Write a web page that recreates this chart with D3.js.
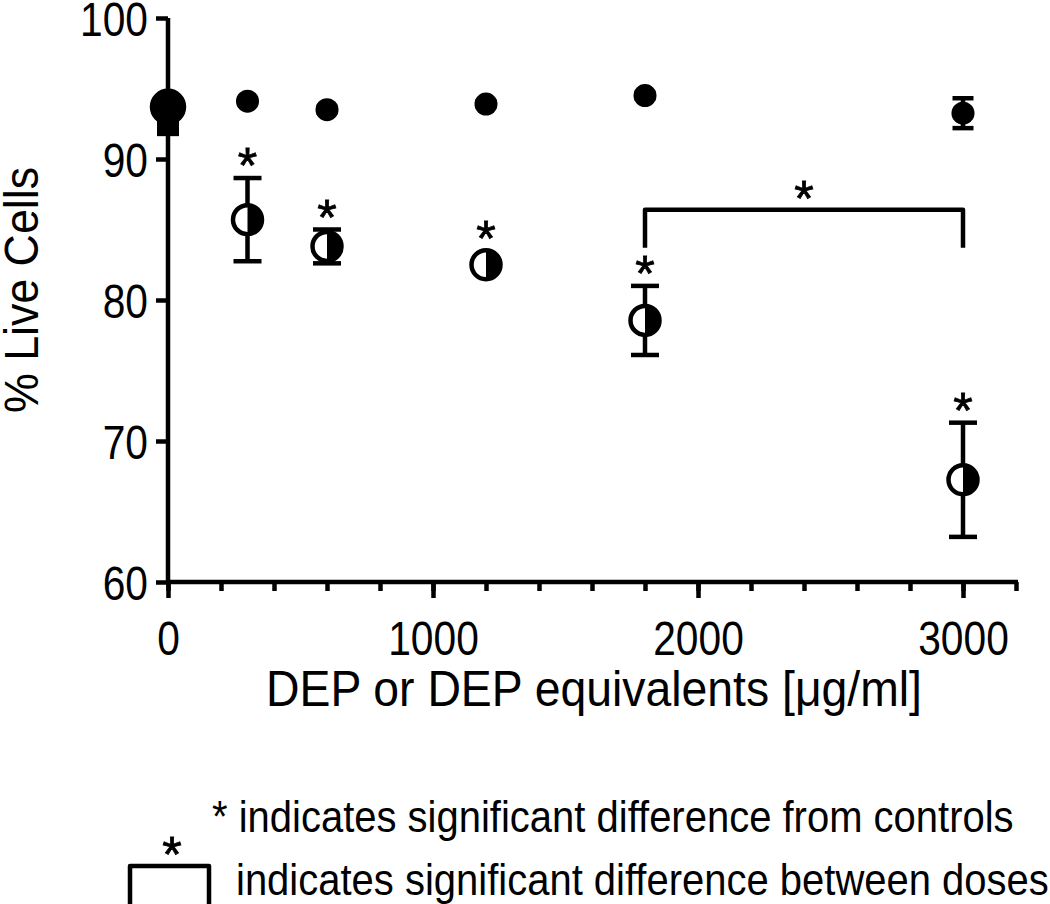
<!DOCTYPE html>
<html>
<head>
<meta charset="utf-8">
<script src="https://cdn.jsdelivr.net/npm/d3@7"></script>
<style>
  html, body { margin: 0; padding: 0; background: #fff; }
  svg { display: block; }
  text { font-family: "Liberation Sans", Arial, Helvetica, sans-serif; fill: #000; }
</style>
</head>
<body>
<svg id="chart" width="1050" height="904"></svg>
<script>
// ---- data ----
const doses = [0, 300, 600, 1200, 1800, 3000];
const depMeans = [93.8, 94.1, 93.5, 93.9, 94.5, 93.25];
const depErr = [0.3, 0.2, 0.2, 0.2, 0.2, 1.06];
const equivMeans = [93.7, 85.7, 83.8, 82.5, 78.55, 67.25];
const equivErr = [0.3, 2.95, 1.2, 0.3, 2.45, 4.05];
const equivSig = [false, true, true, true, true, true];
const controlDoses = [0];
const controlMeans = [92.4];
const bracketDoses = [1800, 3000];
const bracketLevels = [86.4, 83.7];   // top of bracket, bottom of its legs
const yTicks = [60, 70, 80, 90, 100];
const xMajorTicks = [0, 1000, 2000, 3000];
const xMinorTicks = d3.range(0, 3201, 200);
const xTitle = "DEP or DEP equivalents [\u03BCg/ml]";
const yTitle = "% Live Cells";
const legend1 = "* indicates significant difference from controls";
const legend2 = "indicates significant difference between doses";

// ---- scales ----
const x = d3.scaleLinear().domain([0, 3200]).range([168, 1016]);
const y = d3.scaleLinear().domain([60, 100]).range([582, 18]);

const svg = d3.select("#chart");
const SW = 4.5;

// place a text with a slightly tall (stretched) face like the reference
function stretched(parent, tx, ty, str, size, sx, sy, anchor, rot) {
  return parent.append("text")
    .attr("transform", `translate(${tx},${ty})${rot ? ` rotate(${rot})` : ""} scale(${sx},${sy})`)
    .attr("text-anchor", anchor || "start")
    .style("font-size", size + "px").text(str);
}
function restretch(sel, sx, sy) {
  sel.each(function () {
    const t = d3.select(this);
    const tx = +t.attr("x") || 0, ty = +t.attr("y") || 0;
    t.attr("x", 0).attr("y", 0).attr("transform", `translate(${tx},${ty}) scale(${sx},${sy})`);
  });
}
const AST = 50;
function asterisk(parent, cx, cy) {
  return parent.append("text").attr("x", cx).attr("y", cy + 0.57 * AST)
    .attr("text-anchor", "middle").style("font-size", AST + "px")
    .attr("stroke", "#000").attr("stroke-width", 0.8).text("*");
}

// ---- axes ----
const yAxis = d3.axisLeft(y).tickValues(yTicks).tickSize(12).tickPadding(8).tickFormat(d3.format("d"));
const gy = svg.append("g").attr("transform", `translate(${x(0)},0)`).call(yAxis);
gy.select(".domain").attr("d", `M0,${y(100)}V${y(60)}`).attr("stroke-width", SW).attr("stroke", "#000");
gy.selectAll(".tick line").attr("stroke-width", SW).attr("stroke", "#000");
gy.selectAll(".tick text").style("font-size", "42px").attr("dy", "0.36em");
restretch(gy.selectAll(".tick text"), 0.97, 1.13);

const xAxisMinor = d3.axisBottom(x).tickValues(xMinorTicks).tickSize(9).tickFormat("");
const gxm = svg.append("g").attr("transform", `translate(0,${y(60)})`).call(xAxisMinor);
gxm.select(".domain").remove();
gxm.selectAll(".tick line").attr("stroke-width", SW).attr("stroke", "#000");

const xAxis = d3.axisBottom(x).tickValues(xMajorTicks).tickSize(16).tickPadding(23).tickFormat(d3.format("d"));
const gx = svg.append("g").attr("transform", `translate(0,${y(60)})`).call(xAxis);
gx.select(".domain").attr("d", `M${x(0) - 2},0H${x(3200) + 2}`).attr("stroke-width", SW).attr("stroke", "#000");
gx.selectAll(".tick line").attr("stroke-width", SW).attr("stroke", "#000");
gx.selectAll(".tick text").style("font-size", "42px").attr("dy", "0.71em");
restretch(gx.selectAll(".tick text"), 0.97, 1.13);

// axis titles
stretched(svg, 594, 706, xTitle, 45, 1.03, 1.1, "middle");
stretched(svg, 38, 290, yTitle, 43, 1.04, 1.1, "middle", -90);

const plot = svg.append("g");

// ---- control square ----
plot.selectAll("rect.ctrl").data(controlDoses).join("rect").attr("class", "ctrl")
  .attr("x", (d) => x(d) - 11).attr("y", (d, i) => y(controlMeans[i]) - 11)
  .attr("width", 22).attr("height", 22).attr("fill", "#000");

// ---- filled series (DEP) ----
const depData = doses.map((d, i) => ({ d, m: depMeans[i], e: depErr[i] }));
depData.forEach((p) => {
  const g = plot.append("g");
  g.append("line").attr("x1", x(p.d)).attr("x2", x(p.d)).attr("y1", y(p.m + p.e)).attr("y2", y(p.m - p.e))
    .attr("stroke", "#000").attr("stroke-width", SW);
  [p.m + p.e, p.m - p.e].forEach((v) => {
    g.append("line").attr("x1", x(p.d) - 10.5).attr("x2", x(p.d) + 10.5).attr("y1", y(v)).attr("y2", y(v))
      .attr("stroke", "#000").attr("stroke-width", SW);
  });
  g.append("circle").attr("cx", x(p.d)).attr("cy", y(p.m)).attr("r", 11.5).attr("fill", "#000");
});

// ---- half-filled series (DEP equivalents) ----
const R = 14.5;
const eqData = doses.map((d, i) => ({ d, m: equivMeans[i], e: equivErr[i], sig: equivSig[i] }));
eqData.forEach((p) => {
  const g = plot.append("g");
  const cx = x(p.d), cy = y(p.m);
  g.append("line").attr("x1", cx).attr("x2", cx).attr("y1", y(p.m + p.e)).attr("y2", y(p.m - p.e))
    .attr("stroke", "#000").attr("stroke-width", SW);
  [p.m + p.e, p.m - p.e].forEach((v) => {
    g.append("line").attr("x1", cx - 14).attr("x2", cx + 14).attr("y1", y(v)).attr("y2", y(v))
      .attr("stroke", "#000").attr("stroke-width", SW);
  });
  g.append("circle").attr("cx", cx).attr("cy", cy).attr("r", p.d === 0 ? R + 1.5 : R)
    .attr("fill", p.d === 0 ? "#000" : "#fff").attr("stroke", "#000").attr("stroke-width", SW);
  g.append("path").attr("d", `M${cx},${cy - R}A${R},${R} 0 0 1 ${cx},${cy + R}Z`).attr("fill", "#000");
  if (p.sig) {
    const top = Math.min(y(p.m + p.e) - SW / 2, cy - R - SW / 2);
    asterisk(g, cx, top - 21);
  }
});

// ---- bracket between doses ----
const bx1 = x(bracketDoses[0]), bx2 = x(bracketDoses[1]);
const by = y(bracketLevels[0]), bl = y(bracketLevels[1]);
plot.append("path").attr("d", `M${bx1},${bl}V${by}H${bx2}V${bl}`)
  .attr("fill", "none").attr("stroke", "#000").attr("stroke-width", SW).attr("stroke-linejoin", "round");
asterisk(plot, (bx1 + bx2) / 2, by - 22);

// ---- legend ----
stretched(svg, 212, 832, legend1, 40, 1.0, 1.12, "start");
svg.append("path").attr("d", "M130,906V866H209V906").attr("fill", "none").attr("stroke", "#000")
  .attr("stroke-width", SW).attr("stroke-linejoin", "round");
asterisk(svg, 172, 843);
stretched(svg, 236, 895, legend2, 40, 1.0, 1.12, "start");
</script>
</body>
</html>
